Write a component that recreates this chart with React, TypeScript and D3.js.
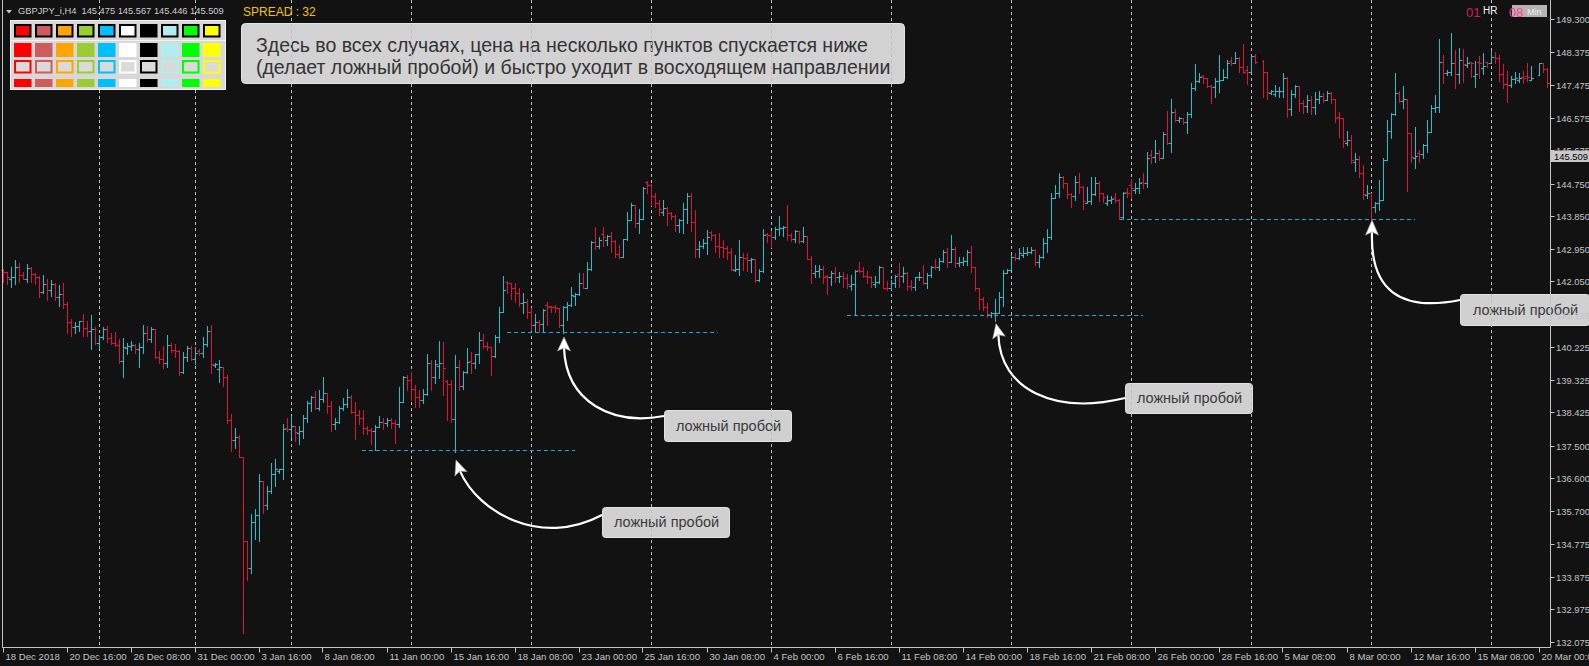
import React from "react";
import * as d3 from "d3";

// ---------- DATA (GBPJPY H4, 18 Dec 2018 – 20 Mar 2019) ----------
const OPEN = [
  142.36, 142.30, 142.10, 142.16, 142.43, 142.22, 142.10, 142.41, 142.24, 142.16,
  141.76, 141.96, 141.81, 141.96, 141.62, 141.70, 141.41, 140.92, 140.79, 140.82,
  140.94, 140.75, 140.68, 140.72, 140.33, 140.52, 140.72, 140.47, 140.33, 140.29,
  139.84, 140.20, 140.25, 140.28, 140.17, 140.22, 140.63, 140.45, 140.72, 139.96,
  139.89, 139.80, 140.29, 140.15, 140.12, 139.53, 139.95, 140.19, 139.89, 140.12,
  140.06, 140.30, 140.68, 139.72, 139.62, 139.69, 139.41, 138.21, 137.66, 137.73,
  137.18, 134.86, 134.11, 135.38, 135.58, 136.52, 135.86, 136.25, 136.72, 136.80,
  136.87, 138.00, 137.95, 138.05, 137.85, 137.92, 138.26, 138.67, 138.86, 138.53,
  138.79, 138.95, 138.60, 138.09, 138.16, 138.53, 138.65, 138.86, 138.44, 138.35,
  138.26, 138.00, 137.94, 137.92, 138.03, 138.17, 138.14, 138.21, 138.14, 138.10,
  138.70, 139.41, 139.31, 139.07, 138.84, 138.76, 138.92, 139.78, 139.41, 139.70,
  139.78, 139.30, 139.20, 138.25, 139.68, 139.15, 139.55, 139.85, 139.78, 140.03,
  140.42, 140.26, 140.24, 139.99, 140.51, 141.20, 142.04, 142.01, 141.87, 141.73,
  141.44, 141.48, 141.20, 140.85, 140.91, 140.88, 141.40, 141.36, 141.34, 141.30,
  140.84, 141.34, 141.38, 141.65, 141.70, 142.01, 141.87, 142.38, 143.14, 143.02,
  143.35, 143.20, 143.30, 143.17, 142.79, 142.73, 143.21, 143.74, 144.16, 143.65,
  143.76, 144.78, 144.71, 144.40, 144.20, 143.95, 144.07, 143.94, 143.85, 143.60,
  143.74, 144.04, 144.40, 143.70, 142.93, 143.02, 143.11, 143.40, 143.33, 143.02,
  143.00, 142.96, 142.86, 142.36, 142.40, 142.73, 142.68, 142.63, 142.65, 142.08,
  142.33, 143.36, 143.33, 143.26, 143.48, 143.51, 143.54, 143.33, 143.21, 143.45,
  143.16, 143.30, 142.66, 142.27, 142.34, 142.40, 142.20, 142.16, 142.27, 142.16,
  142.19, 142.13, 141.92, 141.97, 142.37, 142.33, 142.19, 142.17, 141.98, 142.04,
  142.45, 141.87, 141.85, 142.01, 142.25, 142.19, 142.28, 141.92, 141.90, 142.16,
  142.17, 141.99, 142.22, 142.45, 142.43, 142.62, 142.87, 142.59, 142.93, 142.56,
  142.59, 142.62, 142.87, 142.45, 141.85, 141.57, 141.34, 141.12, 141.16, 141.18,
  141.62, 142.28, 142.36, 142.73, 142.68, 142.78, 142.82, 142.87, 142.91, 142.59,
  142.73, 143.11, 143.28, 144.34, 144.48, 144.94, 144.76, 144.46, 144.41, 144.80,
  144.66, 144.22, 144.27, 144.46, 144.77, 144.48, 144.22, 144.29, 144.34, 144.29,
  143.82, 144.52, 144.70, 144.57, 144.62, 144.80, 144.76, 145.55, 145.49, 145.60,
  145.45, 146.11, 145.88, 146.74, 146.50, 146.55, 146.46, 146.66, 147.38, 147.58,
  147.72, 147.66, 147.46, 147.43, 147.58, 147.61, 147.70, 148.13, 148.09, 148.21,
  147.96, 147.88, 147.84, 148.28, 148.15, 148.15, 147.84, 147.25, 147.22, 147.30,
  147.32, 147.66, 146.80, 147.22, 147.45, 146.97, 146.89, 147.06, 146.86, 147.08,
  147.17, 147.06, 147.26, 147.08, 146.60, 146.55, 145.88, 145.96, 145.35, 145.42,
  145.05, 144.42, 144.49, 144.09, 144.22, 144.29, 145.40, 146.21, 146.67, 147.24,
  147.04, 147.08, 146.14, 145.45, 145.60, 145.57, 145.81, 146.18, 146.83, 146.86,
  148.12, 147.80, 147.84, 148.09, 147.78, 148.17, 148.03, 148.10, 147.72, 148.12,
  147.95, 148.11, 148.09, 148.24, 148.21, 147.78, 147.50, 147.47, 147.63, 147.62,
  147.70, 147.73, 147.62, 147.76, 147.76, 148.07, 147.91,
];
const HIGH = [
  142.38, 142.30, 142.43, 142.64, 142.54, 142.30, 142.53, 142.45, 142.27, 142.19,
  142.22, 142.10, 142.08, 141.99, 141.95, 142.01, 141.48, 141.00, 140.93, 140.96,
  141.14, 140.96, 141.12, 140.77, 140.56, 140.79, 140.81, 140.61, 140.64, 140.45,
  140.49, 140.33, 140.41, 140.31, 140.33, 140.84, 140.81, 140.77, 140.72, 140.12,
  140.27, 140.56, 140.33, 140.31, 140.15, 140.10, 140.26, 140.27, 140.22, 140.17,
  140.50, 140.81, 140.84, 139.80, 139.87, 139.69, 139.46, 138.38, 137.98, 137.81,
  137.18, 134.86, 135.61, 135.74, 136.72, 136.53, 136.39, 137.03, 137.13, 136.87,
  138.10, 138.28, 138.32, 138.05, 138.05, 138.35, 138.75, 138.88, 139.02, 139.04,
  139.41, 138.97, 138.75, 138.26, 138.61, 138.83, 139.07, 138.90, 138.72, 138.49,
  138.49, 138.05, 137.98, 138.07, 138.32, 138.28, 138.26, 138.26, 138.21, 139.13,
  139.43, 139.47, 139.54, 139.18, 139.04, 139.06, 140.03, 139.87, 139.87, 140.39,
  140.38, 139.31, 139.31, 140.02, 139.87, 139.57, 140.19, 140.10, 140.05, 140.65,
  140.59, 140.38, 140.24, 140.56, 141.34, 142.19, 142.05, 142.01, 142.01, 141.85,
  141.71, 141.55, 141.30, 141.14, 140.99, 141.28, 141.48, 141.37, 141.39, 141.30,
  141.37, 141.48, 141.90, 141.73, 142.27, 142.28, 142.59, 143.16, 143.56, 143.28,
  143.56, 143.33, 143.42, 143.19, 143.05, 143.23, 143.97, 144.22, 144.16, 144.04,
  144.66, 144.83, 144.75, 144.48, 144.29, 144.29, 144.11, 143.97, 143.88, 143.76,
  144.20, 144.48, 144.48, 144.02, 143.17, 143.21, 143.46, 143.45, 143.35, 143.39,
  143.19, 143.02, 142.98, 142.77, 143.19, 142.84, 142.82, 142.68, 142.66, 142.40,
  143.48, 143.37, 143.45, 143.55, 143.85, 143.58, 144.16, 143.39, 143.47, 143.45,
  143.54, 143.30, 142.75, 142.50, 142.50, 142.47, 142.22, 142.33, 142.43, 142.31,
  142.31, 142.25, 142.22, 142.36, 142.59, 142.45, 142.33, 142.18, 142.19, 142.47,
  142.45, 142.06, 142.08, 142.22, 142.54, 142.45, 142.31, 142.08, 142.17, 142.31,
  142.50, 142.29, 142.47, 142.65, 142.68, 142.91, 142.96, 143.33, 143.00, 142.73,
  142.73, 142.91, 143.02, 142.45, 141.85, 141.62, 141.44, 141.20, 141.55, 141.76,
  142.36, 142.40, 142.77, 142.82, 142.96, 142.99, 142.99, 143.00, 142.93, 142.77,
  143.24, 143.48, 144.48, 144.71, 145.03, 144.96, 144.76, 144.50, 144.96, 145.03,
  144.68, 144.66, 144.92, 144.92, 144.83, 144.48, 144.43, 144.41, 144.50, 144.31,
  144.52, 144.62, 144.87, 144.76, 144.89, 145.03, 145.63, 145.68, 145.95, 145.68,
  146.17, 146.76, 147.08, 146.80, 146.60, 146.55, 146.74, 147.52, 148.06, 147.80,
  147.75, 147.66, 147.47, 147.66, 148.30, 147.91, 148.17, 148.24, 148.38, 148.24,
  148.61, 148.00, 148.30, 148.33, 148.33, 148.17, 147.84, 147.35, 147.47, 147.43,
  147.80, 147.69, 147.35, 147.47, 147.45, 147.06, 147.20, 147.17, 147.29, 147.32,
  147.26, 147.32, 147.29, 147.08, 146.73, 146.55, 146.20, 146.09, 145.60, 145.51,
  145.26, 144.71, 144.49, 144.25, 144.85, 145.45, 146.51, 146.71, 147.80, 147.32,
  147.45, 147.10, 146.14, 146.30, 145.68, 145.84, 146.52, 146.92, 147.20, 148.75,
  148.30, 147.89, 148.90, 148.44, 148.49, 148.46, 148.24, 148.12, 148.15, 148.28,
  148.37, 148.12, 148.42, 148.40, 148.30, 148.05, 147.86, 147.72, 147.84, 147.82,
  147.86, 148.09, 148.00, 147.91, 148.09, 148.07, 147.94,
];
const LOW = [
  142.04, 141.97, 141.90, 141.97, 142.04, 142.10, 142.04, 142.04, 141.96, 141.60,
  141.73, 141.53, 141.65, 141.53, 141.37, 141.32, 140.63, 140.54, 140.63, 140.68,
  140.54, 140.54, 140.18, 140.30, 140.19, 140.45, 140.38, 140.30, 140.26, 139.80,
  139.41, 140.04, 140.15, 140.07, 139.69, 140.07, 140.40, 140.38, 139.94, 139.80,
  139.66, 139.69, 140.10, 139.96, 139.46, 139.50, 139.85, 139.87, 139.75, 140.01,
  139.96, 140.26, 139.52, 139.69, 139.27, 139.16, 138.12, 137.36, 137.45, 137.18,
  132.33, 133.79, 133.97, 134.91, 134.87, 135.63, 135.74, 136.18, 136.39, 136.74,
  136.57, 137.92, 137.75, 137.63, 137.55, 137.72, 138.17, 138.47, 138.51, 138.49,
  138.72, 138.41, 137.92, 137.96, 138.14, 138.49, 138.58, 138.40, 137.69, 138.10,
  137.82, 137.82, 137.54, 137.38, 138.01, 137.95, 138.05, 137.98, 137.57, 138.03,
  138.70, 139.04, 138.76, 138.56, 138.56, 138.67, 138.90, 139.04, 139.24, 139.36,
  138.90, 138.21, 138.16, 137.33, 139.04, 139.08, 139.50, 139.50, 139.64, 139.78,
  140.19, 140.14, 139.45, 139.96, 140.38, 141.20, 141.71, 141.55, 141.48, 141.37,
  141.16, 141.04, 140.70, 140.65, 140.65, 140.65, 140.84, 141.20, 141.20, 140.79,
  140.62, 140.97, 141.36, 141.39, 141.68, 141.85, 141.85, 142.36, 142.93, 142.96,
  143.02, 143.05, 142.87, 142.73, 142.68, 142.73, 143.19, 143.74, 143.56, 143.37,
  143.76, 144.48, 144.16, 144.11, 143.88, 143.88, 143.60, 143.76, 143.45, 143.42,
  143.37, 143.65, 143.45, 142.71, 142.73, 142.96, 142.80, 143.19, 142.86, 142.71,
  142.71, 142.65, 142.36, 142.34, 142.22, 142.36, 142.34, 142.31, 142.03, 142.06,
  142.31, 143.14, 143.00, 143.21, 143.33, 143.30, 143.19, 143.17, 143.14, 143.11,
  143.14, 142.65, 142.01, 142.17, 142.17, 142.01, 141.69, 141.94, 142.04, 142.04,
  141.88, 141.85, 141.80, 141.11, 142.31, 142.16, 142.01, 141.90, 141.90, 142.01,
  141.85, 141.82, 141.84, 141.90, 141.90, 142.04, 141.82, 141.82, 141.80, 142.08,
  141.97, 141.85, 142.17, 142.38, 142.36, 142.59, 142.45, 142.59, 142.45, 142.47,
  142.50, 142.50, 142.31, 141.80, 141.27, 141.25, 141.05, 141.07, 140.96, 141.18,
  141.37, 142.28, 142.36, 142.63, 142.65, 142.73, 142.77, 142.82, 142.50, 142.45,
  142.68, 142.87, 143.23, 144.34, 144.39, 144.62, 144.34, 144.11, 144.29, 144.48,
  144.06, 144.20, 144.18, 144.44, 144.28, 144.25, 144.16, 144.20, 144.25, 143.76,
  143.79, 144.39, 144.34, 144.48, 144.48, 144.62, 144.66, 145.33, 145.35, 145.40,
  145.45, 145.84, 145.63, 146.49, 146.46, 146.40, 146.16, 146.60, 147.34, 147.57,
  147.52, 147.43, 146.99, 147.15, 147.29, 147.61, 147.66, 148.03, 148.07, 147.84,
  147.82, 147.50, 147.84, 148.07, 147.98, 147.13, 147.10, 147.22, 147.17, 147.15,
  147.15, 146.60, 146.64, 147.15, 146.76, 146.69, 146.74, 146.67, 146.67, 146.99,
  147.01, 147.06, 146.97, 146.46, 146.03, 145.77, 145.81, 145.31, 145.10, 144.92,
  144.31, 144.34, 143.74, 143.97, 144.02, 144.29, 145.40, 146.00, 146.64, 147.01,
  146.83, 144.55, 145.35, 145.17, 145.35, 145.45, 145.63, 146.18, 146.74, 146.74,
  147.52, 147.75, 147.75, 147.38, 147.52, 147.57, 147.98, 147.70, 147.43, 147.66,
  147.78, 147.98, 148.09, 148.07, 147.59, 147.38, 147.01, 147.43, 147.52, 147.57,
  147.52, 147.59, 147.61, 147.63, 147.75, 147.84, 147.43,
];
const CLOSE = [
  142.30, 142.16, 142.16, 142.43, 142.22, 142.10, 142.41, 142.24, 142.16, 141.76,
  141.96, 141.81, 141.96, 141.62, 141.70, 141.41, 140.92, 140.79, 140.82, 140.94,
  140.75, 140.68, 140.72, 140.33, 140.52, 140.72, 140.47, 140.33, 140.29, 139.84,
  140.22, 140.25, 140.28, 140.17, 140.22, 140.63, 140.45, 140.72, 139.96, 139.89,
  139.80, 140.29, 140.15, 140.12, 139.53, 139.95, 140.19, 139.89, 140.06, 140.06,
  140.30, 140.68, 139.75, 139.76, 139.69, 139.41, 138.21, 137.66, 137.73, 137.18,
  134.86, 134.11, 135.38, 135.58, 136.52, 135.86, 136.25, 136.72, 136.85, 136.87,
  137.96, 137.95, 138.05, 137.89, 137.92, 138.26, 138.67, 138.86, 138.53, 138.79,
  138.95, 138.60, 138.09, 138.16, 138.53, 138.65, 138.86, 138.44, 138.35, 138.26,
  138.00, 137.94, 137.92, 138.03, 138.17, 138.14, 138.21, 138.14, 138.10, 138.70,
  139.41, 139.31, 139.07, 138.84, 138.76, 138.92, 139.78, 139.41, 139.76, 139.78,
  139.64, 139.20, 138.25, 139.68, 139.15, 139.55, 139.82, 139.78, 140.03, 140.42,
  140.26, 140.24, 139.99, 140.51, 141.20, 141.82, 142.01, 141.87, 141.73, 141.44,
  141.48, 141.20, 140.85, 140.91, 140.88, 141.25, 141.34, 141.34, 141.30, 140.84,
  141.34, 141.38, 141.67, 141.70, 142.01, 141.87, 142.38, 143.14, 143.02, 143.19,
  143.28, 143.30, 143.17, 142.79, 142.73, 143.21, 143.74, 144.16, 143.65, 143.76,
  144.64, 144.71, 144.40, 144.20, 144.04, 144.07, 143.94, 143.85, 143.60, 143.74,
  144.04, 144.40, 143.70, 142.93, 143.02, 143.11, 143.28, 143.33, 143.02, 143.00,
  142.96, 142.86, 142.40, 142.40, 142.73, 142.68, 142.63, 142.65, 142.08, 142.33,
  143.33, 143.33, 143.26, 143.48, 143.51, 143.54, 143.33, 143.21, 143.45, 143.16,
  143.30, 142.66, 142.27, 142.34, 142.40, 142.16, 142.16, 142.27, 142.16, 142.19,
  142.13, 141.97, 141.97, 142.34, 142.33, 142.19, 142.17, 142.04, 142.04, 142.45,
  141.87, 141.85, 142.01, 142.19, 142.19, 142.28, 141.92, 141.90, 142.16, 142.17,
  141.99, 142.22, 142.45, 142.43, 142.62, 142.87, 142.59, 142.93, 142.56, 142.59,
  142.62, 142.87, 142.45, 141.85, 141.57, 141.34, 141.14, 141.16, 141.18, 141.62,
  142.28, 142.36, 142.73, 142.68, 142.82, 142.82, 142.87, 142.91, 142.59, 142.73,
  143.11, 143.28, 144.34, 144.48, 144.94, 144.76, 144.46, 144.41, 144.80, 144.66,
  144.27, 144.27, 144.46, 144.77, 144.48, 144.37, 144.29, 144.31, 144.29, 143.82,
  144.48, 144.48, 144.62, 144.62, 144.77, 144.76, 145.45, 145.49, 145.60, 145.45,
  146.11, 145.88, 146.74, 146.52, 146.55, 146.46, 146.66, 147.38, 147.58, 147.70,
  147.66, 147.45, 147.43, 147.58, 147.61, 147.70, 148.09, 148.09, 148.21, 147.96,
  147.84, 147.84, 148.28, 148.12, 148.15, 147.84, 147.29, 147.31, 147.30, 147.32,
  147.66, 146.80, 147.22, 147.45, 146.97, 146.89, 147.06, 146.86, 147.08, 147.17,
  147.06, 147.26, 147.08, 146.55, 146.55, 145.93, 145.96, 145.40, 145.42, 145.05,
  144.46, 144.49, 144.09, 144.22, 144.29, 145.40, 146.21, 146.67, 147.24, 147.04,
  147.08, 146.14, 145.49, 145.51, 145.57, 145.81, 146.18, 146.83, 146.86, 148.12,
  147.80, 147.84, 148.09, 147.78, 148.17, 148.05, 148.07, 148.07, 147.78, 148.07,
  148.00, 148.09, 148.24, 148.21, 147.78, 147.50, 147.47, 147.63, 147.66, 147.66,
  147.66, 147.69, 147.66, 147.76, 148.07, 147.91, 147.54,
];

const PRICE_TICKS = [
  149.3, 148.375, 147.475, 146.575, 145.675, 144.75, 143.85, 142.95, 142.05, 141.125,
  140.225, 139.325, 138.425, 137.5, 136.6, 135.7, 134.775, 133.875, 132.975, 132.075,
];
const TIME_LABELS = [
  "18 Dec 2018", "20 Dec 16:00", "26 Dec 08:00", "31 Dec 00:00", "3 Jan 16:00",
  "8 Jan 08:00", "11 Jan 00:00", "15 Jan 16:00", "18 Jan 08:00", "23 Jan 00:00",
  "25 Jan 16:00", "30 Jan 08:00", "4 Feb 00:00", "6 Feb 16:00", "11 Feb 08:00",
  "14 Feb 00:00", "18 Feb 16:00", "21 Feb 08:00", "26 Feb 00:00", "28 Feb 16:00",
  "5 Mar 08:00", "8 Mar 00:00", "12 Mar 16:00", "15 Mar 08:00", "20 Mar 00:00",
];
const TIME_LABEL_STEP = 16;
const WEEK_STARTS = [24, 48, 72, 102, 132, 162, 192, 222, 252, 282, 312, 342, 372];

const SYMBOL = "GBPJPY_i,H4";
const QUOTE = ["145.475", "145.567", "145.446", "145.509"];
const SPREAD = 32;
const BID = 145.509;

const LEVEL_PRICES = [137.38, 140.65, 141.11, 143.76];
const LEVEL_FROM = [89.6, 125.9, 210.9, 279.1];
const LEVEL_TO = [142.9, 178.6, 284.9, 352.9];
const FALSE_BREAK_BARS = [113, 140, 248, 342];

const NOTE_LINES = [
  "Здесь во всех случаях, цена на несколько пунктов спускается ниже",
  "(делает ложный пробой) и быстро уходит в восходящем направлении",
];
const CALLOUT_LABEL = "ложный пробой";
const PALETTE = ["#ff0000", "#cd5c5c", "#ffa500", "#9acd32", "#00bfff", "#ffffff", "#000000", "#afeeee", "#00ff00", "#ffff00"];

// layout of the callouts (pixels)
const CALLOUT_LAYOUT = [
  { box: [602, 507, 127, 30], p0: [602, 515], c1: [540, 548], c2: [478, 512], gap: 8, back: [5, 14] },
  { box: [664, 410, 127, 31], p0: [664, 416], c1: [612, 426], c2: [566, 402], gap: 4, back: [0, 14] },
  { box: [1125, 383, 127, 30], p0: [1125, 398], c1: [1055, 415], c2: [1000, 390], gap: 3, back: [3, 14] },
  { box: [1460, 294, 129, 31], p0: [1460, 300], c1: [1400, 312], c2: [1370, 290], gap: 0, back: [0, 15] },
];

const W = 1589;
const H = 666;
const BG = "#121212";
const UP = "#1bc4cf";
const DOWN = "#dc143c";
const AXIS = "#c4c4c4";
const FONT = "'Liberation Sans', Arial, sans-serif";

export default function App() {
  const n = Math.min(OPEN.length, HIGH.length, LOW.length, CLOSE.length);
  const x = d3.scaleLinear().domain([0, 386]).range([3.5, 1547.5]);
  const y = d3.scaleLinear().domain([132.075, 149.3]).range([641.95, 18.99]);

  let up = "", down = "", flat = "";
  for (let i = 0; i < n; i++) {
    const cx = x(i);
    const yh = Math.round(y(HIGH[i]));
    const yl = Math.round(y(LOW[i]));
    const yo = Math.round(y(OPEN[i])) + 0.5;
    const yc = Math.round(y(CLOSE[i])) + 0.5;
    const seg = `M${cx},${yh}V${Math.max(yl + 1, yh + 1)}M${cx - 2.5},${yo}H${cx - 0.5}M${cx + 0.5},${yc}H${cx + 2.5}`;
    if (CLOSE[i] > OPEN[i]) up += seg;
    else if (CLOSE[i] < OPEN[i]) down += seg;
    else flat += seg;
  }

  const plotRight = 1550.5;
  const plotBottom = 647.5;

  const arrows = CALLOUT_LAYOUT.map((c, k) => {
    const bi = FALSE_BREAK_BARS[k];
    const tip = [x(bi) + 0.5, y(LOW[bi]) + c.gap];
    const p3 = [tip[0] + c.back[0], tip[1] + c.back[1]];
    const dx = tip[0] - p3[0], dy = tip[1] - p3[1];
    const len = Math.hypot(dx, dy);
    const ux = dx / len, uy = dy / len;
    const px = -uy, py = ux;
    const notch = [p3[0] + ux * 3, p3[1] + uy * 3];
    const c1 = [p3[0] + px * 6.5, p3[1] + py * 6.5];
    const c2 = [p3[0] - px * 6.5, p3[1] - py * 6.5];
    const curve = `M${c.p0[0]},${c.p0[1]}C${c.c1[0]},${c.c1[1]} ${c.c2[0]},${c.c2[1]} ${notch[0]},${notch[1]}`;
    const head = `M${tip[0]},${tip[1]}L${c1[0]},${c1[1]}L${notch[0]},${notch[1]}L${c2[0]},${c2[1]}Z`;
    return { curve, head };
  });

  const bidY = Math.round(y(BID));

  return (
    <svg
      width={W}
      height={H}
      style={{ position: "fixed", left: 0, top: 0, display: "block", background: BG }}
      fontFamily={FONT}
    >
      <rect x={0} y={0} width={W} height={H} fill={BG} />

      {/* annotation note */}
      <rect x={241.5} y={23.5} width={663} height={60} rx={4} fill="#d2d2d2" stroke="#e4e4e4" />
      {NOTE_LINES.map((t, i) => (
        <text key={i} x={256} y={52 + i * 22} fontSize={19.5} fill="#333">
          {t}
        </text>
      ))}

      {/* callout boxes */}
      {CALLOUT_LAYOUT.map((c, k) => (
        <g key={k}>
          <rect x={c.box[0] + 0.5} y={c.box[1] + 0.5} width={c.box[2]} height={c.box[3]} rx={3} fill="#d0d0d0" stroke="#e2e2e2" />
          <text x={c.box[0] + c.box[2] / 2 + 1} y={c.box[1] + c.box[3] / 2 + 5} fontSize={14.5} fill="#3a3a3a" textAnchor="middle">
            {CALLOUT_LABEL}
          </text>
        </g>
      ))}

      {/* week separators */}
      {WEEK_STARTS.map((b) => (
        <line key={b} x1={x(b)} x2={x(b)} y1={0} y2={plotBottom} stroke="#bdbdbd" strokeDasharray="3,3" />
      ))}

      {/* bars */}
      <path d={down} stroke={DOWN} fill="none" />
      <path d={up} stroke={UP} fill="none" />
      <path d={flat} stroke="#000" fill="none" />

      {/* level lines */}
      {LEVEL_PRICES.map((p, k) => {
        const yy = Math.round(y(p)) + 0.5;
        return (
          <line key={k} x1={x(LEVEL_FROM[k])} x2={x(LEVEL_TO[k])} y1={yy} y2={yy} stroke="#1ea6e6" strokeDasharray="4,3" />
        );
      })}

      {/* arrows */}
      {arrows.map((a, k) => (
        <g key={k}>
          <path d={a.curve} stroke="#fff" strokeWidth={2.2} fill="none" />
          <path d={a.head} fill="#fff" stroke="#999" strokeWidth={0.6} />
        </g>
      ))}

      {/* frame */}
      <line x1={2.5} x2={2.5} y1={0} y2={plotBottom} stroke={AXIS} />
      <line x1={2} x2={plotRight} y1={plotBottom} y2={plotBottom} stroke={AXIS} />
      <line x1={plotRight} x2={plotRight} y1={0} y2={plotBottom} stroke={AXIS} />

      {/* price axis */}
      {PRICE_TICKS.map((v) => {
        const yy = Math.round(y(v)) + 0.5;
        return (
          <g key={v}>
            <line x1={plotRight} x2={plotRight + 4} y1={yy} y2={yy} stroke={AXIS} />
            <text x={1556} y={yy + 3.5} fontSize={9.4} fill={AXIS}>
              {v.toFixed(3)}
            </text>
          </g>
        );
      })}
      <rect x={1551} y={bidY - 5.5} width={38} height={11.5} fill="#c8c8c8" />
      <text x={1554} y={bidY + 3.8} fontSize={9.4} fill="#000">
        {BID.toFixed(3)}
      </text>

      {/* time axis */}
      {TIME_LABELS.map((t, k) => {
        const xx = Math.round(x(k * TIME_LABEL_STEP)) - 0.5;
        return (
          <g key={t}>
            <line x1={xx} x2={xx} y1={plotBottom} y2={plotBottom + 5} stroke={AXIS} />
            <text x={xx + 2} y={660} fontSize={9.6} fill={AXIS}>
              {t}
            </text>
          </g>
        );
      })}

      {/* header */}
      <path d="M6,10L12,10L9,13.5Z" fill={AXIS} />
      <text x={18} y={14} fontSize={9.3} fill="#cfcfcf">
        {SYMBOL}
      </text>
      <text x={81.5} y={14} fontSize={9.3} fill="#cfcfcf">
        {QUOTE.join(" ")}
      </text>
      <text x={243} y={16} fontSize={12} fill="#f0c400">
        {`SPREAD : ${SPREAD}`}
      </text>

      {/* palette */}
      <g>
        <rect x={10.5} y={20.5} width={215} height={69} fill="#d8d8d8" stroke="#f2f2f2" />
        <line x1={11} x2={225} y1={40.5} y2={40.5} stroke="#f2f2f2" />
        {PALETTE.map((c, k) => {
          const px = 14 + k * 21;
          return (
            <g key={c}>
              <rect x={px + 1} y={25} width={15.5} height={11.5} fill={c} stroke="#000" strokeWidth={2} />
              <rect x={px} y={43} width={17.5} height={14} fill={c} />
              <rect x={px + 1} y={61} width={15.5} height={11.5} fill="#dadada" stroke={c} strokeWidth={2} />
              <rect x={px} y={79} width={17.5} height={8} fill={c} />
            </g>
          );
        })}
      </g>

      {/* top right */}
      <rect x={1512} y={5} width={35} height={12} fill="#b4b4b4" />
      <text x={1527} y={14.5} fontSize={9} fill="#eeeeee">
        Min
      </text>
      <text x={1466} y={17.3} fontSize={13} fill="#d81b60">
        01
      </text>
      <text x={1483} y={14} fontSize={10} fill="#f4f4f4">
        HR
      </text>
      <text x={1509} y={17.3} fontSize={13} fill="#ff3d9a">
        08
      </text>
    </svg>
  );
}
